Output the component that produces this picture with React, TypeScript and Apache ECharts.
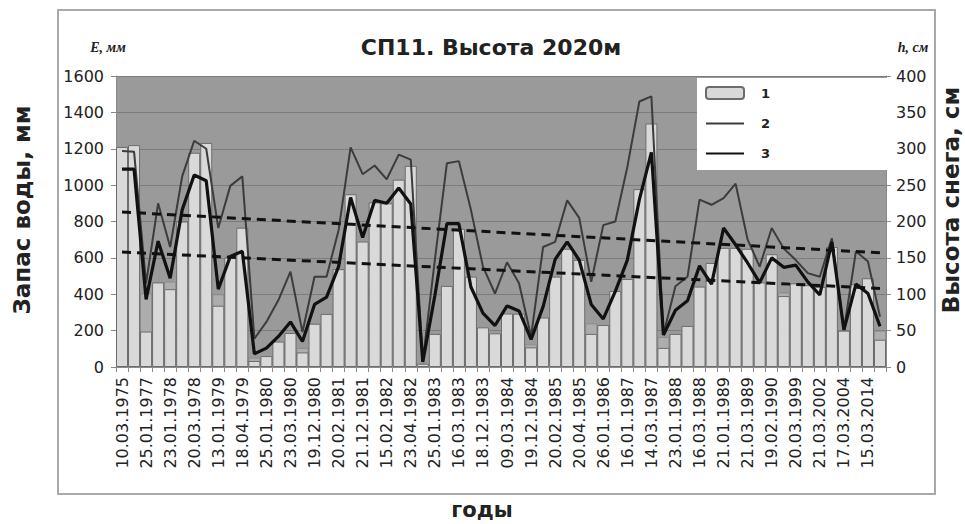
import React, { useEffect, useRef } from "react";
import * as echarts from "echarts";

// Dates of the measured surveys (every second one is labelled on the axis)
const dateLabels = [
  "10.03.1975", "25.01.1977", "23.01.1978", "20.03.1978", "13.01.1979", "18.04.1979",
  "25.01.1980", "23.03.1980", "19.12.1980", "20.02.1981", "21.12.1981", "15.02.1982",
  "23.04.1982", "25.01.1983", "16.03.1983", "18.12.1983", "09.03.1984", "19.12.1984",
  "20.02.1985", "20.04.1985", "26.01.1986", "16.01.1987", "14.03.1987", "23.01.1988",
  "16.03.1988", "21.01.1989", "21.03.1989", "19.02.1990", "20.03.1999", "21.03.2002",
  "17.03.2004", "15.03.2014",
];

// 1 — water storage, mm (left axis)
const waterStorage = [
  1210, 1220, 195, 465, 428, 800, 1178, 1232, 337, 602,
  766, 33, 60, 140, 187, 80, 238, 292, 538, 950,
  690, 905, 900, 1030, 1106, 18, 182, 446, 760, 497,
  218, 185, 294, 293, 108, 272, 497, 650, 589, 182,
  231, 418, 484, 978, 1339, 105, 182, 226, 442, 572,
  655, 655, 650, 465, 620, 390, 460, 450, 440, 660,
  200, 455, 488, 150,
];

// Secondary storage bars (shown only where they rise above series 1), mm
const storageUpper: (number | null)[] = [
  null, null, 405, null, 470, null, null, null, 400, null,
  null, 52, null, null, null, 105, null, null, null, null,
  null, null, null, null, null, null, null, null, null, null,
  null, null, null, null, 125, null, null, null, null, 240,
  null, null, null, null, null, 165, null, null, null, null,
  null, null, null, null, null, 410, null, null, null, null,
  null, null, null, 200,
];

// 2 — snow height, cm (right axis)
const line2Values = [
  297, 296, 115, 225, 165, 262, 311, 300, 191, 249,
  262, 39, 62, 92, 131, 48, 124, 124, 188, 302,
  265, 277, 258, 292, 285, 8, 147, 280, 283, 216,
  138, 101, 144, 115, 42, 165, 172, 229, 205, 117,
  195, 200, 275, 365, 372, 45, 111, 124, 230, 223,
  232, 252, 175, 138, 191, 163, 147, 129, 124, 177,
  51, 159, 145, 69,
];

// 3 — snow height, cm (right axis)
const line3Values = [
  272, 272, 93, 173, 122, 216, 264, 256, 107, 152,
  159, 18, 26, 42, 62, 35, 86, 96, 138, 233,
  178, 229, 225, 246, 224, 7, 98, 197, 197, 110,
  74, 57, 84, 77, 38, 83, 148, 172, 147, 86,
  66, 104, 147, 230, 295, 44, 78, 91, 139, 114,
  191, 168, 143, 116, 150, 137, 140, 117, 99, 172,
  51, 114, 101, 56,
];

// Linear trends, start and end values, cm
const trend2 = [213, 157];
const trend3 = [158, 108];

const leftTicks = { min: 0, max: 1600, step: 200 };
const rightTicks = { min: 0, max: 400, step: 50 };

// Every labelled date is followed by an unlabelled survey; the unlabelled
// slots get unique invisible names so the category axis keeps them apart.
const categories = dateLabels.flatMap((d, i) => [d, "\u200b".repeat(i + 1)]);

const trendData = (pair: number[]) =>
  waterStorage.map((_, i) =>
    i === 0 ? pair[0] : i === waterStorage.length - 1 ? pair[1] : null
  );

const FONT = "DejaVu Sans";

const axisText = { fontFamily: FONT, fontSize: 16, color: "#222" };

const caption = (text: string, x: number, y: number, size: number, extra = {}) => ({
  type: "text",
  x,
  y,
  ...extra,
  style: {
    text,
    fontFamily: FONT,
    fontSize: size,
    fontWeight: "bold",
    fill: "#222",
    textAlign: "center",
    textVerticalAlign: "middle",
  },
});

const unitLabel = (text: string, x: number) => ({
  type: "text",
  x,
  y: 47,
  style: {
    text,
    fontFamily: "Liberation Serif",
    fontSize: 14,
    fontStyle: "italic",
    fontWeight: "bold",
    fill: "#222",
    textAlign: "center",
    textVerticalAlign: "middle",
  },
});

export default function App() {
  const ref = useRef<HTMLDivElement>(null);

  useEffect(() => {
    if (!ref.current) return;
    const chart = echarts.init(ref.current, undefined, { renderer: "svg" });
    chart.setOption({
      animation: false,
      backgroundColor: "#ffffff",
      grid: {
        left: 116,
        right: 79,
        top: 76,
        bottom: 157,
        show: true,
        backgroundColor: "#9a9a9a",
        borderWidth: 0,
      },
      legend: {
        data: [
          { name: "1" },
          { name: "2", itemStyle: { opacity: 0, color: "transparent", borderWidth: 0 } },
          { name: "3", itemStyle: { opacity: 0, color: "transparent", borderWidth: 0 } },
        ],
        orient: "vertical",
        left: 697,
        top: 78,
        itemWidth: 38,
        itemHeight: 12,
        itemGap: 17,
        backgroundColor: "#ffffff",
        padding: [8, 124, 10, 8],
        selectedMode: false,
        textStyle: {
          fontFamily: FONT,
          fontSize: 13,
          fontWeight: "bold",
          color: "#222",
          padding: [0, 0, 0, 12],
        },
      },
      xAxis: {
        type: "category",
        data: categories,
        boundaryGap: true,
        axisLine: { show: true, lineStyle: { color: "#8a8a8a", width: 1 } },
        axisTick: { show: true, interval: 0, length: 5, lineStyle: { color: "#8a8a8a" } },
        axisLabel: { ...axisText, interval: 1, rotate: 90, margin: 10 },
      },
      yAxis: [
        {
          type: "value",
          min: leftTicks.min,
          max: leftTicks.max,
          interval: leftTicks.step,
          axisLine: { show: true, lineStyle: { color: "#8a8a8a" } },
          axisTick: { show: true, length: 5, lineStyle: { color: "#8a8a8a" } },
          axisLabel: { ...axisText, margin: 12, formatter: (v: number) => String(v) },
          splitLine: { show: true, lineStyle: { color: "#7c7c7c", width: 1 } },
        },
        {
          type: "value",
          position: "right",
          min: rightTicks.min,
          max: rightTicks.max,
          interval: rightTicks.step,
          axisLine: { show: true, lineStyle: { color: "#8a8a8a" } },
          axisTick: { show: true, length: 5, lineStyle: { color: "#8a8a8a" } },
          axisLabel: { ...axisText, margin: 10, formatter: (v: number) => String(v) },
          splitLine: { show: false },
        },
      ],
      series: [
        {
          name: "upper",
          type: "bar",
          yAxisIndex: 0,
          data: storageUpper,
          barCategoryGap: "0%",
          barGap: "-100%",
          itemStyle: { color: "#adadad", borderColor: "#8c8c8c", borderWidth: 1 },
          silent: true,
        },
        {
          name: "1",
          type: "bar",
          yAxisIndex: 0,
          data: waterStorage,
          barCategoryGap: "0%",
          barGap: "-100%",
          itemStyle: { color: "#d9d9d9", borderColor: "#6c6c6c", borderWidth: 1 },
        },
        {
          name: "2",
          type: "line",
          yAxisIndex: 1,
          data: line2Values,
          symbol: "none",
          lineStyle: { color: "#3c3c3c", width: 2 },
          itemStyle: { color: "#3c3c3c" },
        },
        {
          name: "3",
          type: "line",
          yAxisIndex: 1,
          data: line3Values,
          symbol: "none",
          lineStyle: { color: "#111111", width: 3.2 },
          itemStyle: { color: "#111111" },
        },
        {
          name: "trend2",
          type: "line",
          yAxisIndex: 1,
          data: trendData(trend2),
          connectNulls: true,
          symbol: "none",
          lineStyle: { color: "#111111", width: 3, type: [9, 6] },
          silent: true,
        },
        {
          name: "trend3",
          type: "line",
          yAxisIndex: 1,
          data: trendData(trend3),
          connectNulls: true,
          symbol: "none",
          lineStyle: { color: "#111111", width: 3, type: [9, 6] },
          silent: true,
        },
      ],
      graphic: [
        {
          type: "rect",
          shape: { x: 58, y: 10, width: 877, height: 484 },
          style: { fill: "none", stroke: "#a9a9a9", lineWidth: 2 },
          silent: true,
        },
        caption("СП11. Высота 2020м", 491, 47, 22),
        unitLabel("E, мм", 108),
        unitLabel("h, см", 913),
        caption("Запас воды, мм", 22, 210, 23, { rotation: Math.PI / 2 }),
        caption("Высота снега, см", 951, 200, 23, { rotation: Math.PI / 2 }),
        caption("годы", 482, 510, 21),
      ],
    });
    return () => chart.dispose();
  }, []);

  return (
    <div
      ref={ref}
      style={{ position: "fixed", left: 0, top: 0, width: 965, height: 524 }}
    />
  );
}
